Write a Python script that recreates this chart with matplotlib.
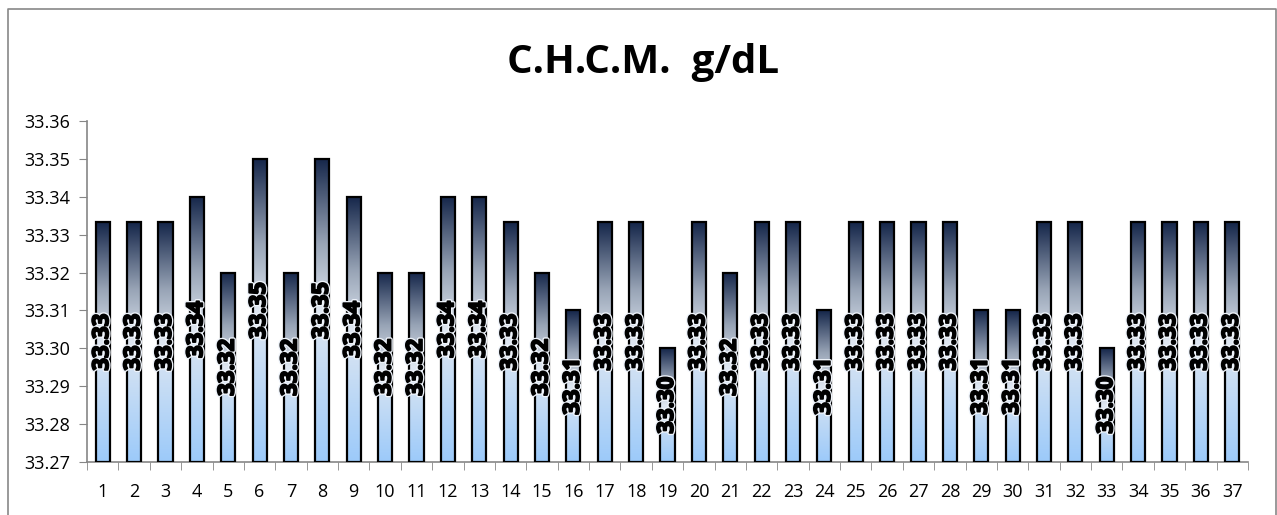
import numpy as np
import matplotlib
matplotlib.use('Agg')
import matplotlib.pyplot as plt
import matplotlib.patheffects as pe
from matplotlib.colors import LinearSegmentedColormap
from matplotlib.patches import Rectangle
from matplotlib.lines import Line2D

plt.rcParams['font.family'] = ['Open Sans', 'DejaVu Sans']

# C.H.C.M. per sample
samples = [str(i) for i in range(1, 38)]
chcm = [33.3333, 33.3333, 33.3333, 33.34, 33.32, 33.35, 33.32, 33.35, 33.34, 33.32,
        33.32, 33.34, 33.34, 33.3333, 33.32, 33.31, 33.3333, 33.3333, 33.30, 33.3333,
        33.32, 33.3333, 33.3333, 33.31, 33.3333, 33.3333, 33.3333, 33.3333, 33.31, 33.31,
        33.3333, 33.3333, 33.30, 33.3333, 33.3333, 33.3333, 33.3333]
y_ticks = [33.27, 33.28, 33.29, 33.30, 33.31, 33.32, 33.33, 33.34, 33.35, 33.36]

ymin, ymax = 33.27, 33.36

fig = plt.figure(figsize=(12.77, 5.15), dpi=100)
ax = fig.add_axes([87 / 1277, 53 / 515, (1248 - 87) / 1277, (462 - 121) / 515])

# gradient from light blue at the base to navy at the top
grad = LinearSegmentedColormap.from_list('bar', [
    (0.0, '#9ccafa'), (0.5, '#dfe7f1'), (0.72, '#98a4b6'), (1.0, '#15264a')])
g = np.linspace(0, 1, 256).reshape(-1, 1)

x = np.arange(len(samples))
w = 0.45
bars = ax.bar(x, [v - ymin for v in chcm], w, bottom=ymin,
              facecolor='none', edgecolor='black', linewidth=1.6, zorder=3)

# heavy label: pale halo, black outline, then the glyphs
label_fx = [pe.Stroke(linewidth=3.2, foreground='#eef3fa'),
            pe.Stroke(linewidth=1.3, foreground='black'),
            pe.Normal()]

for b, v in zip(bars, chcm):
    x0 = b.get_x()
    im = ax.imshow(g, cmap=grad, origin='lower', aspect='auto',
                   extent=(x0, x0 + w, ymin, v), zorder=2)
    clip = Rectangle((x0, ymin), w, v - ymin, transform=ax.transData)
    im.set_clip_path(clip)
    ax.text(x0 + w / 2, (ymin + v) / 2, f'{v:.2f}', rotation=90,
            ha='center', va='center', fontsize=16, fontweight='bold',
            color='black', zorder=4, path_effects=label_fx)

ax.set_xlim(-0.5, len(samples) - 0.5)
ax.set_ylim(ymin, ymax)
ax.set_yticks(y_ticks)
ax.set_yticklabels([f'{t:.2f}' for t in y_ticks])
ax.set_xticks(x)
ax.set_xticklabels(samples)
ax.set_xticks(np.arange(-0.5, len(samples)), minor=True)

for s in ['top', 'right']:
    ax.spines[s].set_visible(False)
for s in ['left', 'bottom']:
    ax.spines[s].set_color('#868686')
    ax.spines[s].set_linewidth(1.2)

ax.tick_params(axis='y', direction='out', length=6, color='#868686',
               labelsize=13, pad=6)
ax.tick_params(axis='x', which='major', length=0, labelsize=13, pad=15)
ax.tick_params(axis='x', which='minor', direction='out', length=6, color='#868686')

fig.text(643 / 1277, 1 - 62 / 515, 'C.H.C.M.  g/dL', ha='center', va='center',
         fontsize=29, fontweight='bold')

# outer chart frame (open at the bottom edge)
fx = [8 / 1277, 8 / 1277, 1275.5 / 1277, 1275.5 / 1277]
fy = [0.0, 1 - 9 / 515, 1 - 9 / 515, 0.0]
fig.add_artist(Line2D(fx, fy, transform=fig.transFigure,
                      color='#888888', linewidth=1.2))

fig.savefig('out.png', dpi=100)
